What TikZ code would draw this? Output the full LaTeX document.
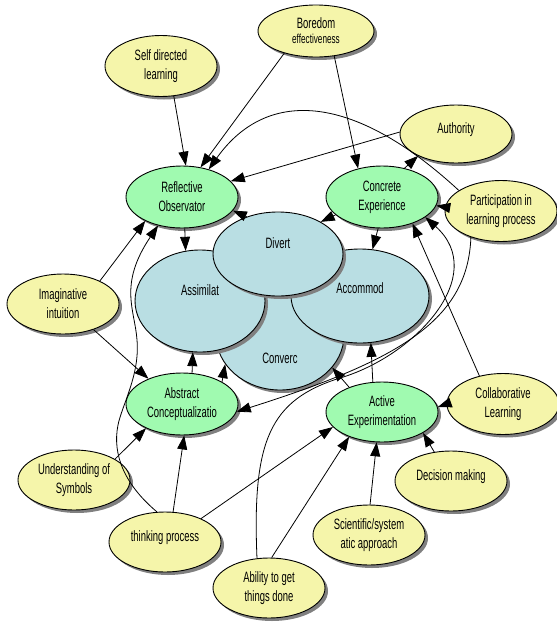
\documentclass[tikz,border=0pt]{standalone}
\usepackage{fontspec}
\setmainfont{Liberation Sans}[FakeStretch=0.63]
\usetikzlibrary{shapes.geometric,arrows.meta,shadows}
\definecolor{yel}{HTML}{F5F5AA}
\definecolor{grn}{HTML}{A0FAB0}
\definecolor{blu}{HTML}{B9DEE3}
\definecolor{shd}{HTML}{808080}
\tikzset{
  base/.style={ellipse, draw=black, line width=0.9pt, inner sep=0pt, align=center,
    font=\fontsize{15}{19}\selectfont,
    drop shadow={shadow xshift=3pt, shadow yshift=-3pt, fill=shd, opacity=1}},
  idea/.style={base, fill=yel, minimum width=112pt, minimum height=61pt},
  mode/.style={base, fill=grn, minimum width=112pt, minimum height=62pt},
  blob/.style={base, fill=blu},
  lab/.style={font=\fontsize{15}{19}\selectfont, inner sep=0pt},
  arr/.style={-{Triangle[length=14pt,width=10pt]}, line width=0.8pt},
  single/.style={text height=10pt, text depth=11pt},
}
\begin{document}
\begin{tikzpicture}[x=1pt,y=-1pt]
\useasboundingbox (0,0) rectangle (557,624);
% yellow idea nodes
\node[idea] (sdl) at (161,66) {Self directed\\learning};
\node[idea, minimum width=116pt, minimum height=52pt] (bor) at (316,31) {Boredom\\[-4pt]{\fontsize{13}{13}\selectfont effectiveness}};
\node[idea, minimum height=58pt, single] (aut) at (456,134) {Authority};
\node[idea] (par) at (501,211) {Participation in\\learning process};
\node[idea, minimum height=60pt] (imi) at (63,304) {Imaginative\\intuition};
\node[idea] (col) at (503,404) {Collaborative\\Learning};
\node[idea, minimum height=60pt] (und) at (74,480) {Understanding of\\Symbols};
\node[idea, minimum height=60pt, single] (thk) at (165,542) {thinking process};
\node[idea, minimum height=60pt, single] (dec) at (451,481) {Decision making};
\node[idea, minimum height=60pt] (sci) at (369,535) {Scientific/system\\atic approach};
\node[idea, minimum height=60pt] (abl) at (269,588) {Ability to get\\things done};
% green mode nodes
\node[mode] (ro) at (182,197) {Reflective\\Observator};
\node[mode] (ce) at (382,197) {Concrete\\Experience};
\node[mode] (ac) at (182,404) {Abstract\\Conceptualizatio};
\node[mode, minimum height=60pt] (ae) at (382,412) {Active\\Experimentation};
% blue learning styles
\node[blob, minimum width=128pt, minimum height=110pt] (cvg) at (280,335) {};
\node[blob, minimum width=130pt, minimum height=102pt] (asm) at (200,301) {};
\node[blob, minimum width=138pt, minimum height=94pt] (acc) at (360,296) {};
\node[blob, minimum width=130pt, minimum height=84pt] (div) at (278,254) {};
\node[lab] (cvgt) at (280,358) {Converc};
\node[lab] (asmt) at (200,290) {Assimilat};
\node[lab] (acct) at (360,288) {Accommod};
\node[lab] (divt) at (278,243) {Divert};
% connectors
\draw[arr] (sdl.-67) -- (ro.83);
\draw[arr] (bor.-145) -- (ro.58);
\draw[arr] (bor.-54) -- (ce.130);
\draw[arr] (par.154) .. controls (350,90) and (265,90) .. (ro.46);
\draw[arr] (aut.178) -- (ro.18);
\draw[arr] (ce.52) -- (aut.-150);
\draw[arr] (par.176) -- (ce.-9);
\draw[arr] (col.130) -- (ce.-41);
\draw[arr] (abl.112) .. controls (252,440) and (270,400) .. (340,378) .. controls (415,356) and (490,275) .. (ce.-25);
\draw[arr] (par.-139) .. controls (468,320) and (400,360) .. (ac.-8);
\draw[arr] (imi.32) -- (ro.-147);
\draw[arr] (thk.105) .. controls (125,485) and (112,455) .. (118,425) .. controls (122,405) and (140,375) .. (137,340) .. controls (135,310) and (118,285) .. (ro.-130);
\draw[arr] (imi.-40) -- (ac.143);
\draw[arr] (und.27) -- (ac.-146);
\draw[arr] (thk.75) -- (ac.-86);
\draw[arr] (thk.33) -- (ae.-163);
\draw[arr] (abl.85) -- (ae.-143);
\draw[arr] (sci.88) -- (ae.-100);
\draw[arr] (dec.120) -- (ae.-27);
\draw[arr] (col.180) -- (ae.5);
\draw[arr] (ro.-85) -- (asm.106);
\draw[arr] (div.130) -- (ro.-15);
\draw[arr] (ce.-159) -- (div.37);
\draw[arr] (ce.-97) -- (acc.75);
\draw[arr] (ac.72) -- (asm.-98);
\draw[arr] (ac.29) -- (cvg.-152);
\draw[arr] (ae.107) -- (acc.-77);
\draw[arr] (ae.143) -- (cvg.-32);
\end{tikzpicture}
\end{document}
